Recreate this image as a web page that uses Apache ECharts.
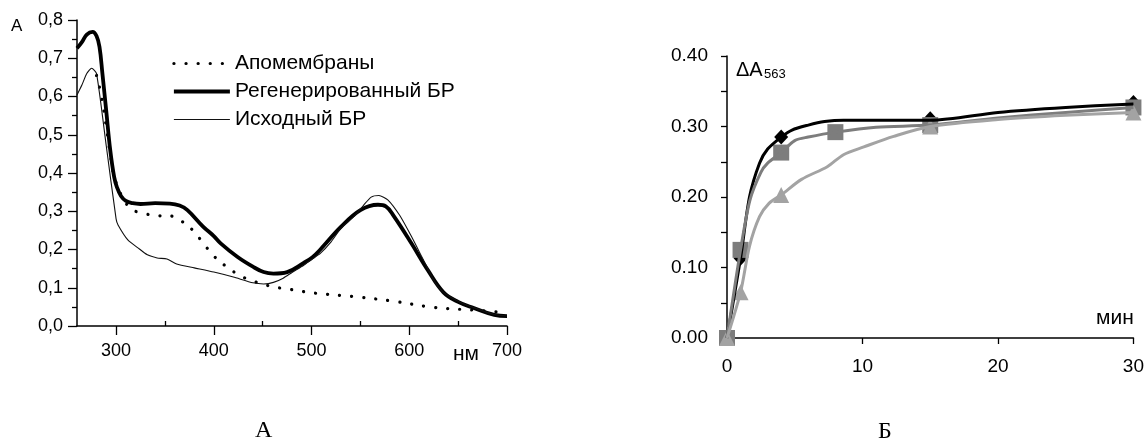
<!DOCTYPE html>
<html>
<head>
<meta charset="utf-8">
<script src="https://cdn.jsdelivr.net/npm/echarts@6/dist/echarts.min.js"></script>
<style>
  html, body { margin: 0; padding: 0; background: #fff; }
  #chart { width: 1147px; height: 443px; }
</style>
</head>
<body>
<div id="chart"></div>
<script>
// ---- Panel А: absorption spectra (wavelength, nm → absorbance) ----
const apomembranes = [
  [280, 0.655], [285, 0.60], [290, 0.52], [294, 0.45], [298, 0.39], [302, 0.363],
  [307, 0.334], [316, 0.305], [328, 0.295], [342, 0.288], [354, 0.288], [367, 0.274],
  [379, 0.249], [389, 0.217], [400, 0.183], [412, 0.157], [424, 0.136], [437, 0.12],
  [450, 0.11], [461, 0.102], [475, 0.097], [487, 0.092], [499, 0.087], [550, 0.075],
  [586, 0.064], [624, 0.049], [663, 0.042], [700, 0.035]
];
const regenerated = [
  [260, 0.726], [265, 0.742], [270, 0.762], [276, 0.769], [280, 0.758], [283, 0.73],
  [286, 0.66], [290, 0.56], [294, 0.46], [298, 0.39], [301, 0.362], [305, 0.34],
  [310, 0.327], [317, 0.321], [325, 0.319], [340, 0.321], [355, 0.32], [365, 0.315],
  [373, 0.303], [389, 0.26], [400, 0.235], [407, 0.216], [424, 0.181], [440, 0.155],
  [451, 0.141], [461, 0.137], [475, 0.141], [492, 0.165], [501, 0.18], [509, 0.2],
  [530, 0.259], [550, 0.303], [568, 0.317], [576, 0.313], [584, 0.288], [602, 0.217],
  [619, 0.146], [635, 0.088], [650, 0.063], [666, 0.047], [687, 0.029], [700, 0.026]
];
const original = [
  [260, 0.604], [265, 0.63], [270, 0.66], [275, 0.674], [280, 0.66], [290, 0.47],
  [300, 0.28], [302, 0.264], [312, 0.225], [322, 0.205], [332, 0.186], [342, 0.178],
  [352, 0.175], [362, 0.162], [380, 0.152], [400, 0.141], [420, 0.128], [440, 0.113],
  [451, 0.11], [461, 0.114], [471, 0.125], [480, 0.14], [492, 0.159], [500, 0.174],
  [509, 0.19], [520, 0.22], [530, 0.255], [543, 0.285], [553, 0.315], [561, 0.337],
  [569, 0.341], [578, 0.33], [590, 0.29], [602, 0.235], [614, 0.175], [625, 0.12],
  [635, 0.088], [650, 0.065], [666, 0.048], [687, 0.03], [700, 0.026]
];
const spectraNames = ['Апомембраны', 'Регенерированный БР', 'Исходный БР'];
const nmMajorTicks = [300, 400, 500, 600, 700];
const nmMinorTicks = [350, 450, 550, 650];

// ---- Panel Б: ΔA563 kinetics (time, min) ----
const diamondCurve = [
  [0, 0], [1, 0.113], [1.66, 0.2], [2.4, 0.248], [3, 0.268], [4, 0.285], [4.8, 0.295],
  [6, 0.302], [7.2, 0.307], [8.6, 0.309], [15, 0.309], [20, 0.32], [25, 0.327], [30, 0.332]
];
const diamondPoints = [[0, 0], [1, 0.113], [4, 0.285], [15, 0.311], [30, 0.334]];
const squareCurve = [
  [0, 0], [1, 0.125], [1.7, 0.196], [2.5, 0.235], [3, 0.248], [4, 0.263], [5, 0.28],
  [6, 0.285], [8, 0.292], [11, 0.299], [15, 0.302], [20, 0.312], [25, 0.32], [30, 0.327]
];
const squarePoints = [[0, 0], [1, 0.125], [4, 0.263], [8, 0.292], [15, 0.302], [30, 0.327]];
const triangleCurve = [
  [0, 0], [1, 0.065], [1.66, 0.13], [2.4, 0.172], [3.1, 0.191], [4, 0.203], [5.5, 0.225],
  [7.4, 0.243], [8.6, 0.26], [10.1, 0.271], [12.3, 0.286], [15, 0.3], [20, 0.31],
  [25, 0.316], [30, 0.32]
];
const trianglePoints = [[0, 0], [1, 0.065], [4, 0.203], [15, 0.3], [30, 0.32]];

const sans = '"Liberation Sans", Arial, sans-serif';
const serif = '"Liberation Serif", "Times New Roman", serif';
const axisLine = { show: true, onZero: false, lineStyle: { color: '#000', width: 1.5 } };

const chart = echarts.init(document.getElementById('chart'), null, { renderer: 'canvas' });

chart.setOption({
  animation: false,
  backgroundColor: '#fff',
  grid: [
    { left: 77, top: 20, width: 430, height: 306 },
    { left: 727, top: 56, width: 415, height: 282 }
  ],
  legend: {
    orient: 'vertical',
    left: 172,
    top: 53,
    padding: 0,
    itemWidth: 56,
    itemHeight: 14,
    itemGap: 7,
    itemStyle: { opacity: 0 },
    lineStyle: { width: 'inherit' },
    data: spectraNames,
    textStyle: { fontFamily: sans, fontSize: 21, color: '#000' }
  },
  xAxis: [
    {
      gridIndex: 0, type: 'value', min: 260, max: 700,
      axisLine: axisLine,
      axisTick: { show: true, customValues: nmMajorTicks, length: 9, lineStyle: { color: '#000', width: 1.3 } },
      axisLabel: { customValues: nmMajorTicks, margin: 16, fontFamily: sans, fontSize: 18, color: '#000' },
      splitLine: { show: false }
    },
    {
      gridIndex: 0, type: 'value', min: 260, max: 700,
      axisLine: { show: false },
      axisTick: { show: true, customValues: nmMinorTicks, length: 5, lineStyle: { color: '#000', width: 1.3 } },
      axisLabel: { show: false },
      splitLine: { show: false }
    },
    {
      gridIndex: 1, type: 'value', min: 0, max: 30, interval: 10,
      axisLine: axisLine,
      axisTick: { show: true, length: 6, lineStyle: { color: '#000', width: 1.3 } },
      axisLabel: { margin: 19, fontFamily: sans, fontSize: 19, color: '#000' },
      splitLine: { show: false }
    }
  ],
  yAxis: [
    {
      gridIndex: 0, type: 'value', min: 0, max: 0.8, interval: 0.1,
      axisLine: axisLine,
      axisTick: { show: true, length: 9, lineStyle: { color: '#000', width: 1.3 } },
      minorTick: { show: true, splitNumber: 2, length: 5, lineStyle: { color: '#000', width: 1.3 } },
      axisLabel: {
        margin: 14, fontFamily: sans, fontSize: 18, color: '#000',
        formatter: v => v.toFixed(1).replace('.', ',')
      },
      splitLine: { show: false }
    },
    {
      gridIndex: 1, type: 'value', min: 0, max: 0.4, interval: 0.1,
      axisLine: axisLine,
      axisTick: { show: true, length: 6, lineStyle: { color: '#000', width: 1.3 } },
      minorTick: { show: true, splitNumber: 2, length: 6, lineStyle: { color: '#000', width: 1.3 } },
      axisLabel: { margin: 19, fontFamily: sans, fontSize: 19, color: '#000', formatter: v => v.toFixed(2) },
      splitLine: { show: false }
    }
  ],
  series: [
    {
      name: spectraNames[0], type: 'line', xAxisIndex: 0, yAxisIndex: 0,
      data: apomembranes, symbol: 'none', smooth: 0.4,
      lineStyle: { color: '#000', width: 3.2, type: [0.1, 12], cap: 'round' },
      itemStyle: { color: '#000' }
    },
    {
      name: spectraNames[1], type: 'line', xAxisIndex: 0, yAxisIndex: 0,
      data: regenerated, symbol: 'none', smooth: 0.4,
      lineStyle: { color: '#000', width: 3.8 },
      itemStyle: { color: '#000' }
    },
    {
      name: spectraNames[2], type: 'line', xAxisIndex: 0, yAxisIndex: 0,
      data: original, symbol: 'none', smooth: 0.2,
      lineStyle: { color: '#111', width: 1.1 },
      itemStyle: { color: '#111' }
    },
    {
      type: 'line', xAxisIndex: 2, yAxisIndex: 1, data: diamondCurve,
      symbol: 'none', smooth: 0.3, lineStyle: { color: '#000', width: 3 }
    },
    {
      type: 'scatter', xAxisIndex: 2, yAxisIndex: 1, data: diamondPoints,
      symbol: 'diamond', symbolSize: [14, 15], itemStyle: { color: '#000', opacity: 1 }
    },
    {
      type: 'line', xAxisIndex: 2, yAxisIndex: 1, data: squareCurve,
      symbol: 'none', smooth: 0.3, lineStyle: { color: '#7d7d7d', width: 3 }
    },
    {
      type: 'scatter', xAxisIndex: 2, yAxisIndex: 1, data: squarePoints,
      symbol: 'rect', symbolSize: 16, itemStyle: { color: '#7d7d7d', opacity: 1 }
    },
    {
      type: 'line', xAxisIndex: 2, yAxisIndex: 1, data: triangleCurve,
      symbol: 'none', smooth: 0.3, lineStyle: { color: '#a3a3a3', width: 3 }
    },
    {
      type: 'scatter', xAxisIndex: 2, yAxisIndex: 1, data: trianglePoints,
      symbol: 'triangle', symbolSize: [16, 16], itemStyle: { color: '#a3a3a3', opacity: 1 }
    }
  ],
  graphic: [
    { type: 'text', left: 11, top: 18, style: { text: 'A', fontFamily: '"Liberation Sans Narrow", ' + sans, fontSize: 17, fill: '#000' } },
    { type: 'text', left: 453, top: 344, style: { text: 'нм', fontFamily: sans, fontSize: 21, fill: '#000' } },
    { type: 'text', left: 736, top: 60, style: { text: 'ΔA', fontFamily: sans, fontSize: 20, fill: '#000' } },
    { type: 'text', left: 764, top: 68, style: { text: '563', fontFamily: sans, fontSize: 13, fill: '#000' } },
    { type: 'text', left: 1096, top: 308, style: { text: 'мин', fontFamily: sans, fontSize: 21, fill: '#000' } },
    { type: 'text', left: 255, top: 419, style: { text: 'А', fontFamily: serif, fontSize: 24, fill: '#000' } },
    { type: 'text', left: 878, top: 420, style: { text: 'Б', fontFamily: serif, fontSize: 24, fill: '#000' } }
  ]
});
</script>
</body>
</html>
